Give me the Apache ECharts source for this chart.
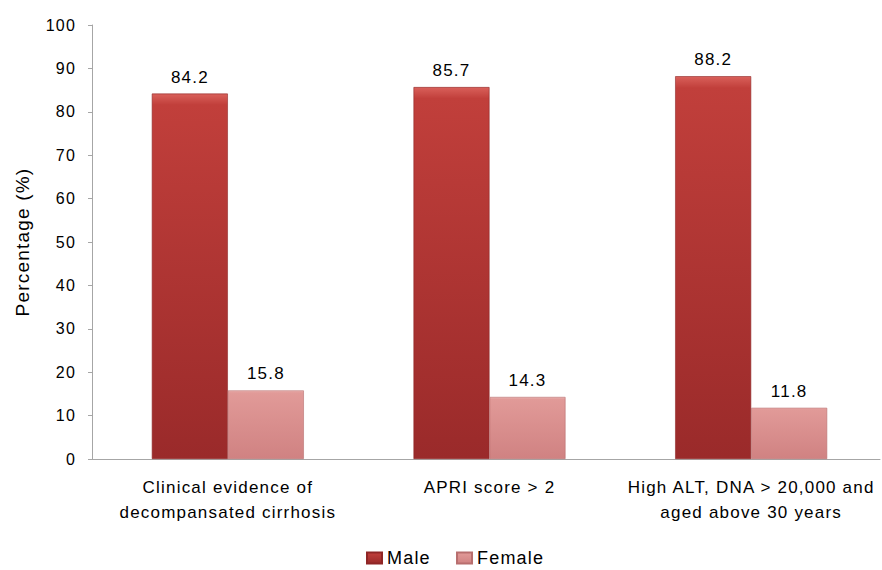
<!DOCTYPE html>
<html>
<head>
<meta charset="utf-8">
<script src="https://cdn.jsdelivr.net/npm/echarts@6/dist/echarts.min.js"></script>
<style>
  html, body { margin: 0; padding: 0; background: #fff; }
  #chart { width: 882px; height: 570px; }
  /* wide-set lettering for every label */
  #chart svg text { letter-spacing: 1.2px; }
</style>
</head>
<body>
<div id="chart"></div>
<script>
const categories = [
  'Clinical evidence of\ndecompansated cirrhosis',
  'APRI score > 2',
  'High ALT, DNA > 20,000 and\naged above 30 years'
];
const maleValues = [84.2, 85.7, 88.2];
const femaleValues = [15.8, 14.3, 11.8];
const yTicks = [0, 10, 20, 30, 40, 50, 60, 70, 80, 90, 100];

const FONT = '"Liberation Sans", Arial, sans-serif';
const AXIS_GRAY = '#a6a6a6';

function shade(top, mid, bottom) {
  return new echarts.graphic.LinearGradient(0, 0, 0, 1, [
    { offset: 0, color: top },
    { offset: 0.03, color: mid },
    { offset: 1, color: bottom }
  ]);
}

const maleColor = shade('#d9605a', '#c13f3b', '#9a2a2a');
const femaleColor = shade('#eab4b2', '#e19a98', '#d08282');

const chart = echarts.init(document.getElementById('chart'), null, { renderer: 'svg' });
chart.setOption({
  animation: false,
  textStyle: { fontFamily: FONT },
  grid: [
    // plotting area for the bars
    { left: 97, right: -3, top: 25, bottom: 111, containLabel: false },
    // baseline running from the value axis to the right edge
    { left: 92, right: 2, top: 25, bottom: 111, containLabel: false }
  ],
  legend: {
    top: 549,
    left: 366,
    padding: 0,
    itemWidth: 15,
    itemHeight: 11,
    itemGap: 30,
    icon: 'rect',
    textStyle: { fontFamily: FONT, fontSize: 18, lineHeight: 18, color: '#000' },
    data: ['Male', 'Female']
  },
  xAxis: [
    {
      type: 'category',
      gridIndex: 0,
      data: categories,
      axisLine: { show: false },
      axisTick: { show: false },
      axisLabel: {
        fontFamily: FONT,
        fontSize: 17,
        color: '#000',
        lineHeight: 25,
        margin: 16,
        interval: 0
      }
    },
    {
      type: 'value',
      gridIndex: 1,
      min: 0,
      max: 1,
      axisLine: { show: true, lineStyle: { color: AXIS_GRAY, width: 1 } },
      axisTick: { show: false },
      axisLabel: { show: false },
      splitLine: { show: false }
    }
  ],
  yAxis: [
    {
      type: 'value',
      gridIndex: 0,
      min: yTicks[0],
      max: yTicks[yTicks.length - 1],
      interval: yTicks[1] - yTicks[0],
      offset: 5,
      name: 'Percentage (%)',
      nameLocation: 'middle',
      nameGap: 60,
      nameRotate: 90,
      nameTextStyle: { fontFamily: FONT, fontSize: 19, color: '#000' },
      splitLine: { show: false },
      axisLine: { show: true, lineStyle: { color: AXIS_GRAY, width: 1 } },
      axisTick: { show: true, length: 4, lineStyle: { color: AXIS_GRAY } },
      axisLabel: { fontFamily: FONT, fontSize: 16, color: '#000', margin: 16 }
    },
    {
      type: 'value',
      gridIndex: 1,
      min: 0,
      max: 1,
      show: false
    }
  ],
  series: [
    {
      name: 'Male',
      type: 'bar',
      xAxisIndex: 0,
      yAxisIndex: 0,
      data: maleValues,
      barWidth: 76,
      barGap: '0%',
      itemStyle: { color: maleColor, borderColor: '#8f2626', borderWidth: 0.6 },
      label: {
        show: true,
        position: 'top',
        distance: 8,
        fontFamily: FONT,
        fontSize: 17,
        color: '#000'
      }
    },
    {
      name: 'Female',
      type: 'bar',
      xAxisIndex: 0,
      yAxisIndex: 0,
      data: femaleValues,
      barWidth: 76,
      barGap: '0%',
      itemStyle: { color: femaleColor, borderColor: '#b86e6e', borderWidth: 0.6 },
      label: {
        show: true,
        position: 'top',
        distance: 8,
        fontFamily: FONT,
        fontSize: 17,
        color: '#000'
      }
    }
  ]
});
</script>
</body>
</html>
